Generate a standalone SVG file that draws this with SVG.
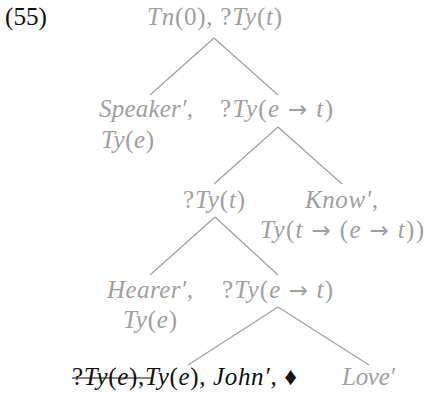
<svg xmlns="http://www.w3.org/2000/svg" width="426" height="396" viewBox="0 0 426 396">
<style>
text{font-family:"Liberation Serif","DejaVu Serif",serif;font-size:25px;fill:#a0a0a0}
.i{font-style:italic}
.k{fill:#111}
.a{font-family:"DejaVu Sans",sans-serif;font-size:23px}
.e{stroke:#a0a0a0;stroke-width:1.2;fill:none}
</style>
<rect width="426" height="396" fill="#fff"/>
<text id="label" x="5" y="25" class="k" textLength="42" lengthAdjust="spacingAndGlyphs">(55)</text>
<g id="connectors">
<line class="e" x1="214" y1="38" x2="150" y2="95"/>
<line class="e" x1="214" y1="38" x2="278" y2="95"/>
<line class="e" x1="278" y1="127" x2="214" y2="184"/>
<line class="e" x1="278" y1="127" x2="342" y2="184"/>
<line class="e" x1="215" y1="217" x2="150" y2="275"/>
<line class="e" x1="215" y1="217" x2="278" y2="275"/>
<line class="e" x1="278" y1="307" x2="188" y2="365"/>
<line class="e" x1="278" y1="307" x2="369" y2="365"/>
</g>
<g id="n0"><text x="147" y="25" textLength="135"><tspan class="i">Tn</tspan>(0), ?<tspan class="i">Ty</tspan>(<tspan class="i">t</tspan>)</text></g>
<g id="n1"><text x="99" y="117" class="i" textLength="94">Speaker′,</text><text x="101" y="148" textLength="53"><tspan class="i">Ty</tspan>(<tspan class="i">e</tspan>)</text></g>
<g id="n2"><text x="220" y="117" textLength="113">?<tspan class="i">Ty</tspan>(<tspan class="i">e</tspan> <tspan class="a">→</tspan> <tspan class="i">t</tspan>)</text></g>
<g id="n3"><text x="183" y="208" textLength="62">?<tspan class="i">Ty</tspan>(<tspan class="i">t</tspan>)</text></g>
<g id="n4"><text x="305" y="208" class="i" textLength="73">Know′,</text><text x="260" y="238" textLength="164"><tspan class="i">Ty</tspan>(<tspan class="i">t</tspan> <tspan class="a">→</tspan> (<tspan class="i">e</tspan> <tspan class="a">→</tspan> <tspan class="i">t</tspan>))</text></g>
<g id="n5"><text x="107" y="298" class="i" textLength="86">Hearer′,</text><text x="123" y="328" textLength="54"><tspan class="i">Ty</tspan>(<tspan class="i">e</tspan>)</text></g>
<g id="n6"><text x="222" y="298" textLength="111">?<tspan class="i">Ty</tspan>(<tspan class="i">e</tspan> <tspan class="a">→</tspan> <tspan class="i">t</tspan>)</text></g>
<g id="n7"><text x="72" y="385" class="k" textLength="225">?<tspan class="i">Ty</tspan>(<tspan class="i">e</tspan>),<tspan class="i">Ty</tspan>(<tspan class="i">e</tspan>), <tspan class="i">John′</tspan>, ♦</text><line x1="72" y1="378" x2="152" y2="378" stroke="#111" stroke-width="1.2"/></g>
<g id="n8"><text x="342" y="385" class="i" textLength="53">Love′</text></g>
</svg>
